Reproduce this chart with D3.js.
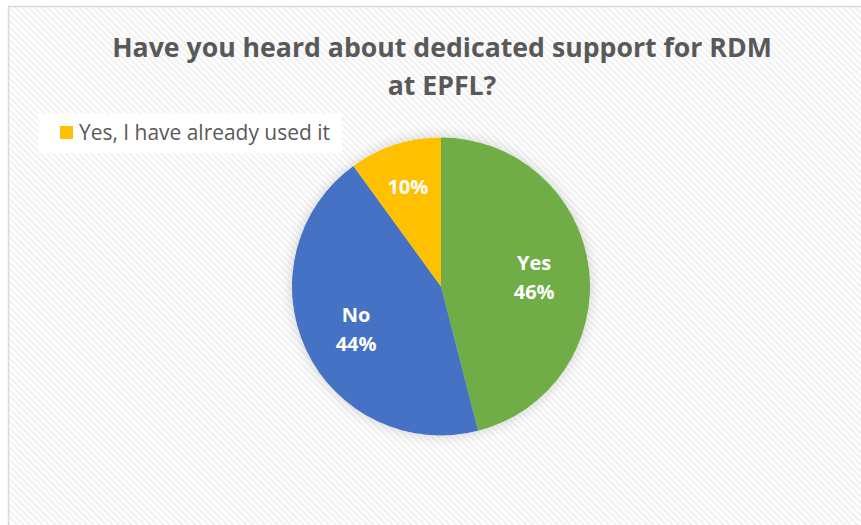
<!DOCTYPE html>
<html lang="en">
<head>
    <meta charset="UTF-8">
    <title>Dedicated support for RDM at EPFL</title>
    <script src="https://d3js.org/d3.v7.min.js"></script>
    <style>
        body {
            margin: 0;
            background: white;
            font-family: "Open Sans", sans-serif;
        }
        svg {
            display: block;
        }
    </style>
</head>
<body>
    <svg width="861" height="525"></svg>

    <script>
        // data
        const categories = ["Yes", "No", "Yes, I have already used it"];
        const shares = [0.46, 0.44, 0.10];
        const sliceColors = ["#70ad47", "#4472c4", "#ffc000"];
        const legendItems = ["Yes, I have already used it"];
        const titleLines = ["Have you heard about dedicated support for RDM", "at EPFL?"];

        const width = 861, height = 525;
        const svg = d3.select("svg");
        const defs = svg.append("defs");

        // Excel-like diagonal hatch background
        const pat = defs.append("pattern")
            .attr("id", "hatch")
            .attr("patternUnits", "userSpaceOnUse")
            .attr("width", 4.5).attr("height", 4.5)
            .attr("patternTransform", "rotate(-45)");
        pat.append("rect").attr("width", 4.5).attr("height", 4.5).attr("fill", "#ffffff");
        pat.append("rect").attr("width", 2).attr("height", 4.5).attr("fill", "#f1f1f1");

        const shadow = defs.append("filter")
            .attr("id", "shadow")
            .attr("x", "-20%").attr("y", "-20%")
            .attr("width", "140%").attr("height", "140%");
        shadow.append("feGaussianBlur").attr("in", "SourceAlpha").attr("stdDeviation", 7).attr("result", "blur");
        shadow.append("feComponentTransfer").attr("in", "blur").attr("result", "soft")
            .append("feFuncA").attr("type", "linear").attr("slope", 0.18);
        const merge = shadow.append("feMerge");
        merge.append("feMergeNode").attr("in", "soft");
        merge.append("feMergeNode").attr("in", "SourceGraphic");

        svg.append("rect")
            .attr("x", 8.5).attr("y", 6.5)
            .attr("width", width).attr("height", height)
            .attr("fill", "url(#hatch)")
            .attr("stroke", "#d9d9d9")
            .attr("stroke-width", 1.5);

        // title, fitted to the width it has in the reference
        const title = svg.append("text")
            .attr("text-anchor", "middle")
            .attr("fill", "#595959")
            .attr("font-weight", "bold")
            .attr("font-size", 28);
        title.selectAll("tspan")
            .data(titleLines)
            .join("tspan")
            .attr("x", 442)
            .attr("y", (d, i) => 57 + i * 38)
            .text(d => d);
        const firstLen = title.select("tspan").node().getComputedTextLength();
        title.attr("font-size", 28 * 660 / firstLen);

        // pie
        const cx = 441, cy = 286.5, radius = 149;
        const pie = d3.pie().sort(null).value(d => d.value);
        const arcs = pie(categories.map((c, i) => ({ name: c, value: shares[i], color: sliceColors[i] })));
        const arc = d3.arc().innerRadius(0).outerRadius(radius);

        const g = svg.append("g").attr("transform", `translate(${cx},${cy})`);

        g.append("g")
            .attr("filter", "url(#shadow)")
            .selectAll("path")
            .data(arcs)
            .join("path")
            .attr("d", arc)
            .attr("fill", d => d.data.color);

        const fmt = d3.format(".0%");
        const labels = g.selectAll("text.lbl")
            .data(arcs)
            .join("text")
            .attr("class", "lbl")
            .attr("text-anchor", "middle")
            .attr("fill", "white")
            .attr("font-weight", "bold")
            .attr("font-size", 20)
            .attr("transform", d => {
                const r = d.data.value < 0.15 ? radius * 0.72 : radius * 0.63;
                const a = (d.startAngle + d.endAngle) / 2;
                return `translate(${Math.sin(a) * r},${-Math.cos(a) * r + 3})`;
            });

        labels.each(function (d) {
            const t = d3.select(this);
            const lines = d.data.value < 0.15 ? [fmt(d.data.value)] : [d.data.name, fmt(d.data.value)];
            const top = -(lines.length - 1) * 29 / 2 + 7;
            lines.forEach((l, i) => {
                t.append("tspan").attr("x", 0).attr("y", top + i * 29).text(l);
            });
        });

        // legend
        const legend = svg.append("g").attr("transform", "translate(39,113)");
        legend.append("rect")
            .attr("width", 303).attr("height", 40)
            .attr("fill", "white");
        const item = legend.selectAll("g.item")
            .data(legendItems)
            .join("g")
            .attr("class", "item");
        item.append("rect")
            .attr("x", 21).attr("y", 13)
            .attr("width", 13).attr("height", 13)
            .attr("fill", d => sliceColors[categories.indexOf(d)]);
        const legendText = item.append("text")
            .attr("x", 40).attr("y", 27)
            .attr("fill", "#595959")
            .attr("font-size", 18)
            .text(d => d);
        const lLen = legendText.node().getComputedTextLength();
        legendText.attr("font-size", 18 * 251 / lLen);
    </script>
</body>
</html>
